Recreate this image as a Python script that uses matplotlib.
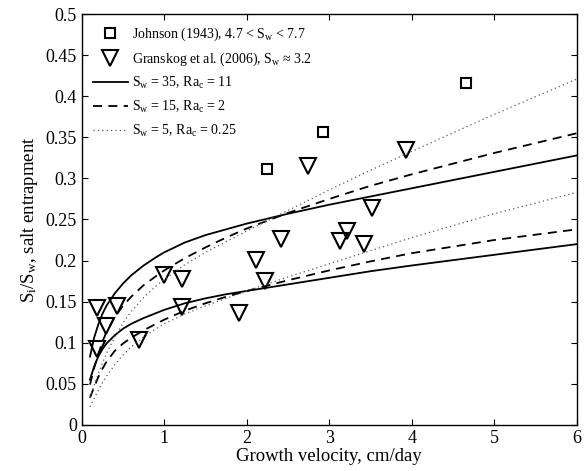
import matplotlib
matplotlib.use('Agg')
from matplotlib import pyplot as plt

plt.rcParams['font.family'] = ['Liberation Serif', 'DejaVu Serif']
plt.rcParams['mathtext.fontset'] = 'custom'
plt.rcParams['mathtext.rm'] = 'Liberation Serif'
plt.rcParams['mathtext.it'] = 'Liberation Serif'

johnson_v = [2.25, 2.92, 4.66]
johnson_s = [0.312, 0.356, 0.416]

granskog_v = [0.19, 0.19, 0.29, 0.43, 0.70, 1.00, 1.21, 1.21, 1.91, 2.11,
              2.22, 2.41, 2.74, 3.13, 3.22, 3.42, 3.52, 3.93]
granskog_s = [0.142, 0.092, 0.120, 0.145, 0.103, 0.182, 0.177, 0.144, 0.136,
              0.201, 0.175, 0.226, 0.315, 0.224, 0.236, 0.220, 0.264, 0.335]

# Model curves, two for each parameter set (upper and lower).
v = [0.1, 0.15, 0.2, 0.25, 0.3, 0.4, 0.5, 0.6, 0.75, 0.9, 1.0, 1.25, 1.5,
     1.75, 2.0, 2.5, 3.0, 3.5, 4.0, 5.0, 6.0]
sw35_up = [0.083, 0.106, 0.122, 0.135, 0.145, 0.160, 0.172, 0.182, 0.194,
           0.204, 0.210, 0.222, 0.231, 0.238, 0.245, 0.257, 0.268, 0.278,
           0.288, 0.308, 0.328]
sw35_lo = [0.055, 0.071, 0.083, 0.092, 0.099, 0.109, 0.117, 0.123, 0.130,
           0.136, 0.140, 0.148, 0.154, 0.159, 0.163, 0.171, 0.179, 0.187,
           0.194, 0.207, 0.220]
sw15_up = [0.049, 0.069, 0.086, 0.101, 0.113, 0.131, 0.145, 0.156, 0.170,
           0.181, 0.188, 0.203, 0.216, 0.228, 0.239, 0.258, 0.275, 0.291,
           0.305, 0.331, 0.355]
sw15_lo = [0.033, 0.046, 0.058, 0.068, 0.077, 0.090, 0.099, 0.106, 0.115,
           0.123, 0.128, 0.139, 0.148, 0.156, 0.163, 0.176, 0.188, 0.199,
           0.209, 0.225, 0.238]
sw5_up = [0.033, 0.048, 0.062, 0.075, 0.087, 0.107, 0.124, 0.138, 0.155,
          0.169, 0.177, 0.195, 0.210, 0.223, 0.236, 0.261, 0.286, 0.310,
          0.333, 0.378, 0.421]
sw5_lo = [0.022, 0.032, 0.042, 0.051, 0.059, 0.073, 0.085, 0.095, 0.107,
          0.117, 0.123, 0.135, 0.145, 0.154, 0.163, 0.180, 0.196, 0.212,
          0.228, 0.257, 0.283]

fig = plt.figure(figsize=(5.88, 4.71), dpi=100)
ax = fig.add_axes([0.139, 0.098, 0.842, 0.872])

ax.plot(johnson_v, johnson_s, 's', ms=7, mfc='none', mec='k', mew=1.5,
        label=r'Johnson (1943), 4.7 < $\mathrm{S_w}$ < 7.7')
ax.plot(granskog_v, granskog_s, 'v', ms=11, mfc='none', mec='k', mew=1.5,
        label=r'Granskog et al. (2006), $\mathrm{S_w}$ ≈ 3.2')

ax.plot(v, sw35_up, '-', c='k', lw=1.3,
        label=r'$\mathrm{S_w}$ = 35, $\mathrm{Ra_c}$ = 11')
ax.plot(v, sw35_lo, '-', c='k', lw=1.3)
ax.plot(v, sw15_up, '--', c='k', lw=1.3, dashes=(5, 3.5),
        label=r'$\mathrm{S_w}$ = 15, $\mathrm{Ra_c}$ = 2')
ax.plot(v, sw15_lo, '--', c='k', lw=1.3, dashes=(5, 3.5))
ax.plot(v, sw5_up, c='0.35', lw=0.9, ls=(0, (1, 2.5)),
        label=r'$\mathrm{S_w}$ = 5, $\mathrm{Ra_c}$ = 0.25')
ax.plot(v, sw5_lo, c='0.35', lw=0.9, ls=(0, (1, 2.5)))

# Format plot.
ax.set_xlim(0, 6)
ax.set_ylim(0, 0.5)
ax.set_xticks([0, 1, 2, 3, 4, 5, 6])
ax.set_yticks([0, 0.05, 0.1, 0.15, 0.2, 0.25, 0.3, 0.35, 0.4, 0.45, 0.5])
ax.set_yticklabels(['0', '0.05', '0.1', '0.15', '0.2', '0.25', '0.3',
                    '0.35', '0.4', '0.45', '0.5'])
ax.tick_params(direction='in', top=True, right=True, length=4, width=0.8,
               labelsize=13)
for s in ax.spines.values():
    s.set_linewidth(1.0)

ax.set_xlabel('Growth velocity, cm/day', fontsize=13.5, labelpad=1)
ax.set_ylabel(r'$\mathrm{S_i/S_w}$, salt entrapment', fontsize=13.5, labelpad=4)

ax.legend(loc='upper left', frameon=False, fontsize=10, numpoints=1,
          handlelength=2.5, handletextpad=0.3, labelspacing=0.55,
          borderaxespad=0.5, borderpad=0.3)

fig.savefig('out.png', dpi=100)
